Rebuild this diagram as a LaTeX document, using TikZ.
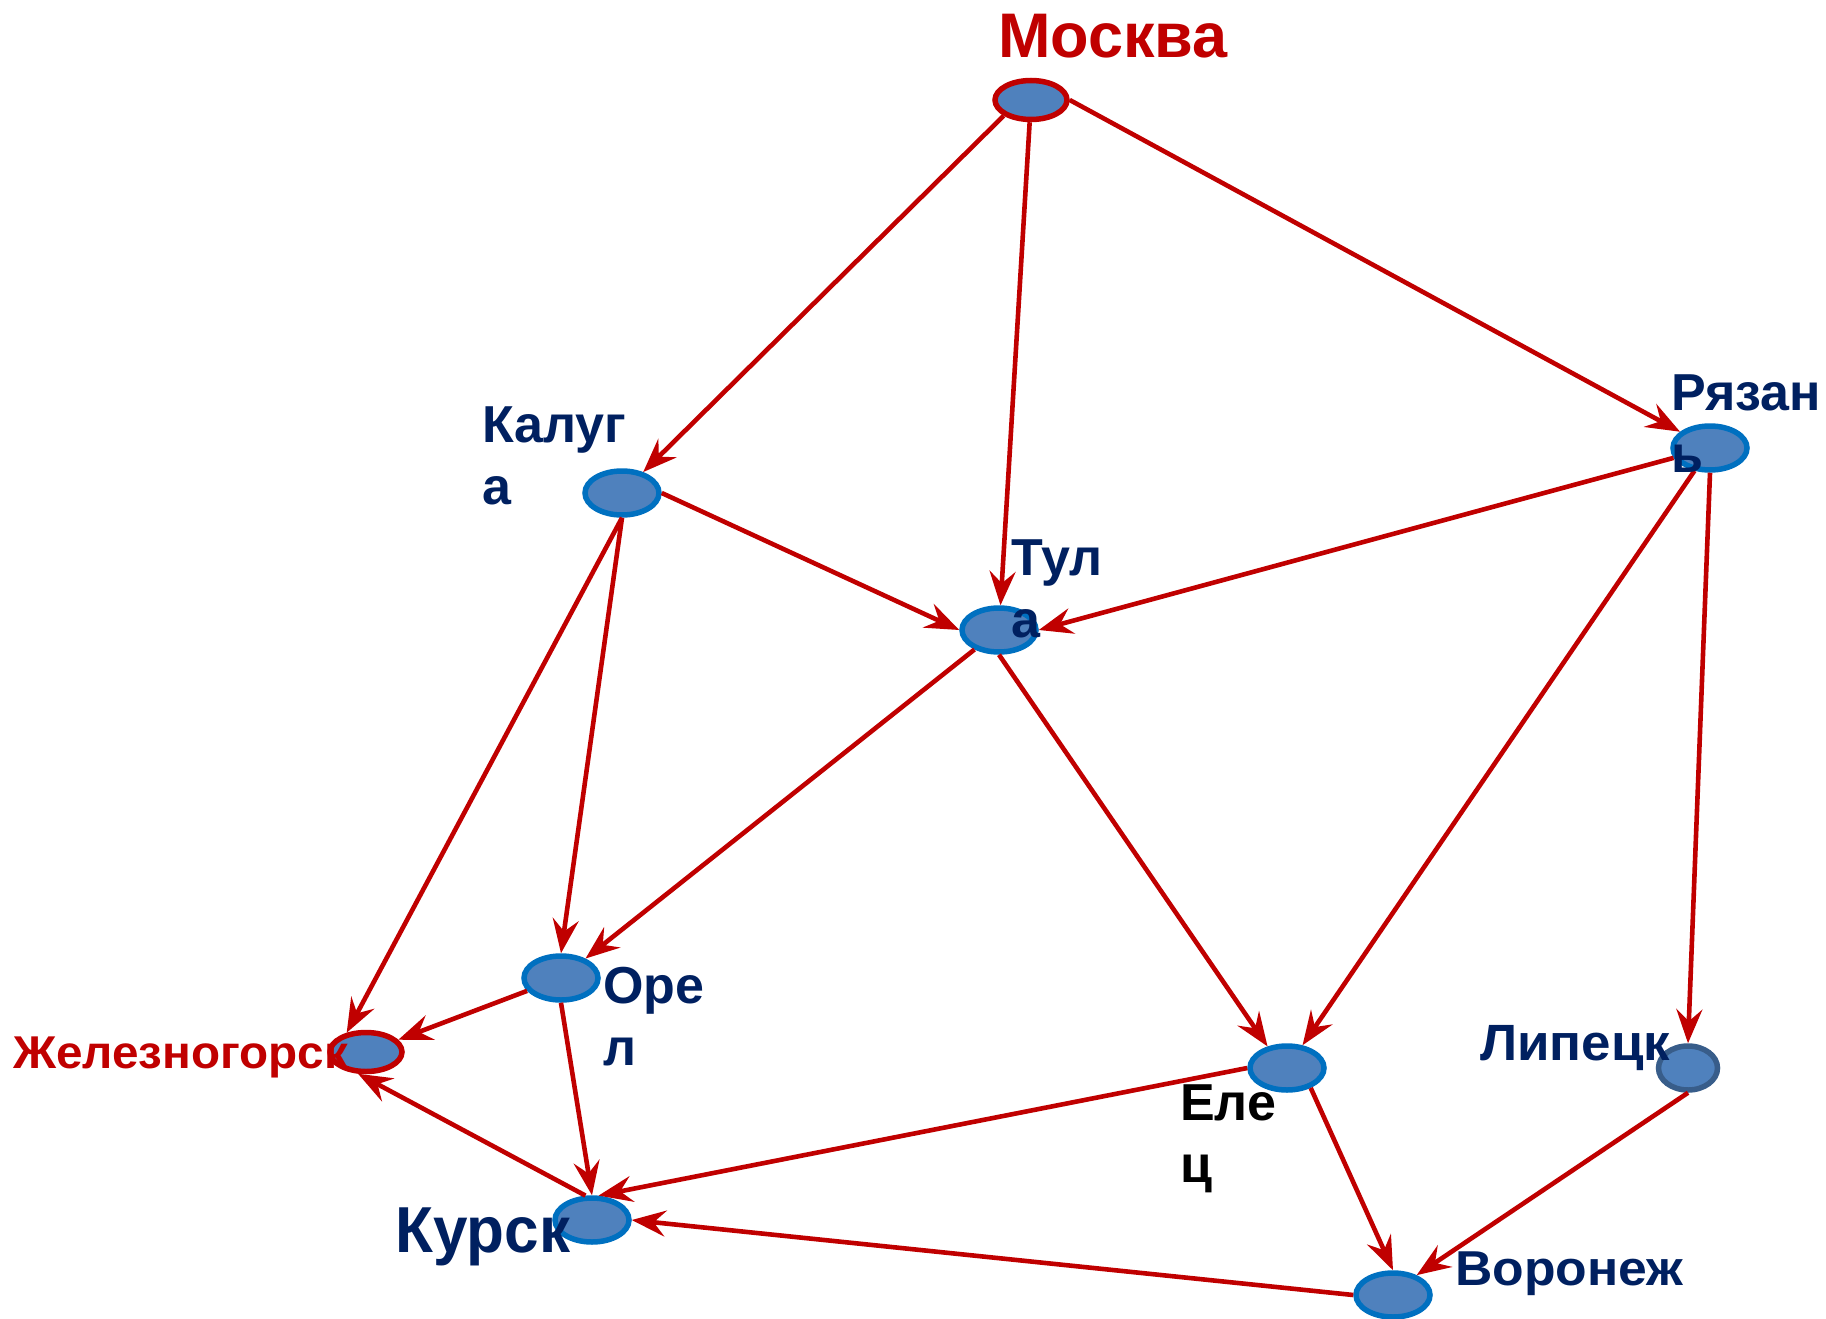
\documentclass[tikz,border=0pt]{standalone}
\usepackage{fontspec}
\setmainfont{Liberation Sans}
\usepackage{graphicx}
\usetikzlibrary{shapes.geometric,arrows.meta}
\definecolor{navy}{HTML}{002060}
\definecolor{dred}{HTML}{C00000}
\definecolor{nfill}{HTML}{4F81BD}
\definecolor{nblue}{HTML}{0070C0}
\definecolor{ngray}{HTML}{385D8A}
\tikzset{
  city/.style={ellipse, fill=nfill, draw=nblue, line width=5.5pt, inner sep=0pt,
    minimum width=74pt, minimum height=44pt},
  capital/.style={city, draw=dred, minimum width=72pt, minimum height=39pt},
  edge/.style={draw=dred, line width=4.6pt,
    -{Stealth[length=34pt, width=26pt, inset=12pt]}},
  lbl/.style={font=\bfseries\fontsize{52}{62}\selectfont, text=navy, inner sep=0pt,
    align=left, anchor=base west},
}
\begin{document}
\begin{tikzpicture}[x=1pt,y=-1pt]
\useasboundingbox (0,0) rectangle (1826,1319);
% cities
\node[capital] (moscow) at (1031,100) {};
\node[city] (kaluga) at (622,493) {};
\node[city] (tula) at (999,630) {};
\node[city] (ryazan) at (1710,448) {};
\node[city] (orel) at (561,978) {};
\node[capital] (zhel) at (366,1052) {};
\node[city] (kursk) at (592,1220) {};
\node[city] (elets) at (1287,1068) {};
\node[city, draw=ngray, minimum width=59pt, minimum height=44pt] (lipetsk) at (1688,1068) {};
\node[city] (voronezh) at (1393,1295) {};
% roads
\draw[edge] (moscow.-150) -- (kaluga);
\draw[edge] (moscow) -- (tula);
\draw[edge] (moscow.east) -- (ryazan);
\draw[edge] (kaluga.east) -- (tula.west);
\draw[edge] (ryazan) -- (tula.east);
\draw[edge] (kaluga.south) -- (zhel.135);
\draw[edge] (kaluga.south) -- (orel.north);
\draw[edge] (tula) -- (orel);
\draw[edge] (tula.south) -- (elets.132);
\draw[edge] (ryazan) -- (elets);
\draw[edge] (ryazan.south) -- (lipetsk.north);
\draw[edge] (orel) -- (zhel);
\draw[edge] (orel.south) -- (kursk.north);
\draw[edge] (kursk.105) -- (zhel.-110);
\draw[edge] (elets.west) -- (kursk.75);
\draw[edge] (elets.-40) -- (voronezh.north);
\draw[edge] (lipetsk.south) -- (voronezh.40);
\draw[edge] (voronezh.west) -- (kursk.east);
% labels (base = baseline of the last line)
\node[lbl, text=dred, font=\bfseries\fontsize{63}{70}\selectfont] (tmoscow) at (998,58) {Москва};
\node[lbl] (tkaluga) at (482,504) {Калуг\\а};
\node[lbl] (ttula) at (1011,637) {Тул\\а};
\node[lbl] (tryazan) at (1671,472) {Рязан\\ь};
\node[lbl] (torel) at (603,1065) {Оре\\л};
\node[lbl, text=black] (telets) at (1180,1182) {Еле\\ц};
\node[lbl, text=dred, font=\bfseries\fontsize{46}{50}\selectfont] (tzhel) at (13,1068) {\resizebox{335pt}{\height}{Железногорск}};
\node[lbl, font=\bfseries\fontsize{65}{70}\selectfont] (tkursk) at (395,1252) {\resizebox{175pt}{\height}{Курск}};
\node[lbl, font=\bfseries\fontsize{51}{60}\selectfont] (tlipetsk) at (1480,1060) {\resizebox{190pt}{\height}{Липецк}};
\node[lbl, font=\bfseries\fontsize{49}{60}\selectfont] (tvoronezh) at (1455,1285) {\resizebox{228pt}{\height}{Воронеж}};
\end{tikzpicture}
\end{document}
